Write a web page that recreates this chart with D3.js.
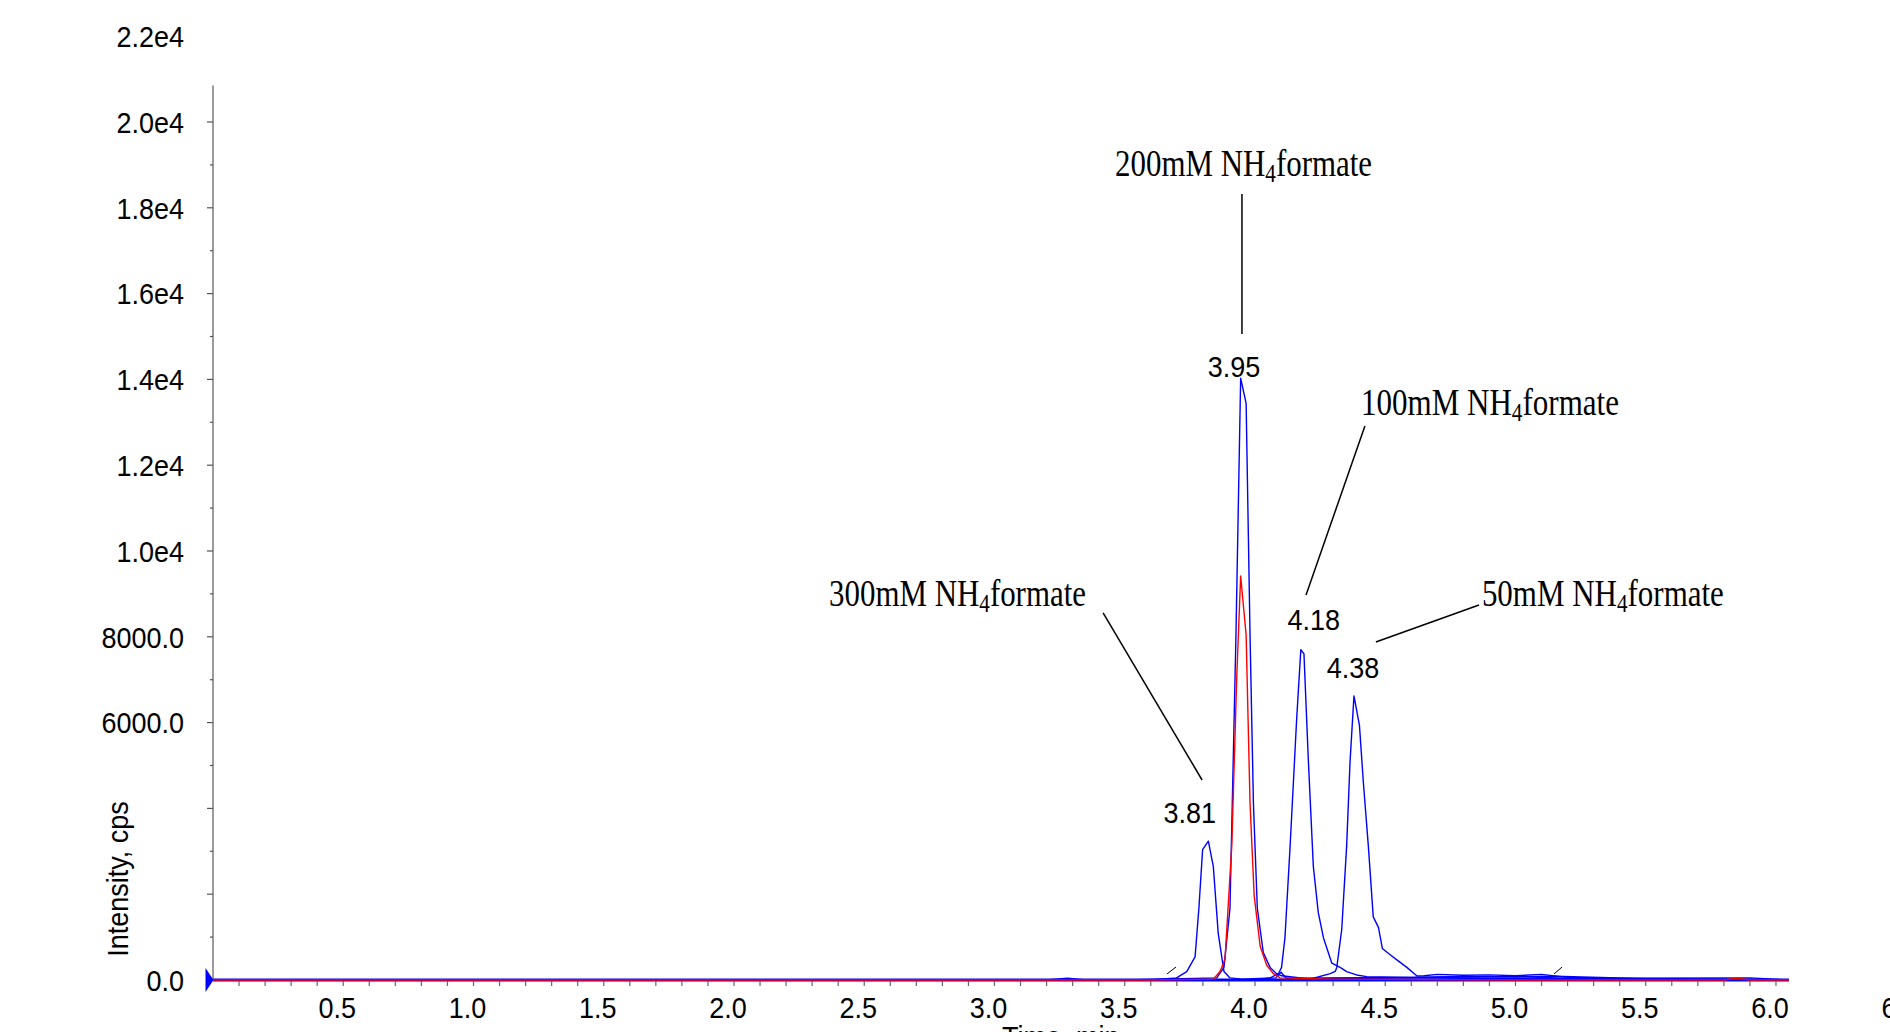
<!DOCTYPE html>
<html>
<head>
<meta charset="utf-8">
<script src="https://cdn.jsdelivr.net/npm/d3@7"></script>
<style>
  body { margin: 0; background: #fff; }
  svg { display: block; }
  .lbl { font-family: "Liberation Sans", Arial, sans-serif; font-size: 30px; fill: #000; }
  .note { font-family: "Liberation Serif", "Times New Roman", serif; font-size: 38px; fill: #000; }
</style>
</head>
<body>
<div id="chart"></div>
<script>
// Overlaid XICs, one per NH4formate concentration (time in min, intensity in cps)
const t300 = [0, 3.20, 3.28, 3.35, 3.60, 3.699, 3.738, 3.770, 3.785, 3.799, 3.821, 3.840, 3.859, 3.881, 3.904, 3.95, 4.08, 4.10, 4.12, 4.6, 5.0, 5.2, 5.5, 6.05];
const i300 = [0, 0, 40, 0, 0, 49, 196, 540, 1700, 3041, 3237, 2649, 1079, 196, 49, 20, 50, 180, 40, 60, 80, 40, 20, 0];

const t200 = [0, 3.50, 3.853, 3.881, 3.904, 3.927, 3.945, 3.966, 3.981, 3.994, 4.009, 4.032, 4.058, 4.083, 4.102, 4.20, 4.60, 5.00, 6.05];
const i200 = [0, 0, 49, 294, 1668, 8044, 14028, 13440, 8044, 4120, 1668, 638, 294, 147, 98, 30, 50, 30, 0];

const t200b = [0, 3.60, 3.840, 3.866, 3.885, 3.911, 3.930, 3.945, 3.966, 3.981, 3.997, 4.020, 4.045, 4.071, 4.096, 4.30, 5.00, 5.80, 5.85, 5.90, 6.05];
const i200b = [0, 0, 20, 196, 490, 3139, 7063, 9418, 8044, 4120, 1962, 785, 343, 147, 49, 20, 0, 0, 40, 0, 0];

const t100 = [0, 4.00, 4.058, 4.090, 4.102, 4.115, 4.135, 4.160, 4.176, 4.188, 4.205, 4.224, 4.243, 4.263, 4.295, 4.327, 4.352, 4.390, 4.429, 4.60, 4.80, 5.00, 5.15, 5.50, 6.05];
const i100 = [0, 0, 49, 147, 294, 981, 3139, 6082, 7701, 7603, 5101, 2649, 1570, 981, 392, 294, 196, 118, 78, 60, 80, 70, 90, 30, 0];

const t50 = [0, 4.20, 4.289, 4.308, 4.314, 4.333, 4.352, 4.365, 4.380, 4.401, 4.416, 4.435, 4.454, 4.474, 4.489, 4.519, 4.551, 4.583, 4.622, 4.65, 4.70, 4.80, 4.90, 5.00, 5.10, 5.20, 5.40, 5.90, 6.05];
const i50 = [0, 0, 147, 200, 294, 1177, 3139, 5101, 6622, 5935, 4611, 3139, 1472, 1226, 736, 589, 441, 294, 93, 100, 130, 110, 120, 100, 130, 60, 40, 50, 0];

const yTickValues = [0, 6000, 8000, 10000, 12000, 14000, 16000, 18000, 20000, 22000];
const yTickLabels = ["0.0", "6000.0", "8000.0", "1.0e4", "1.2e4", "1.4e4", "1.6e4", "1.8e4", "2.0e4", "2.2e4"];
const xTickLabels = ["0.5", "1.0", "1.5", "2.0", "2.5", "3.0", "3.5", "4.0", "4.5", "5.0", "5.5", "6.0", "6.5"];

const peakNames = ["3.81", "3.95", "4.18", "4.38"];
const noteNames = ["300mM", "200mM", "100mM", "50mM"];

// annotation placement, in data units
const peakLabelAt = [[3.750, 3660], [3.919, 14056], [4.226, 8159], [4.376, 7040]];
const noteAt = [[2.365, 8718], [3.463, 18741], [4.407, 13170], [4.871, 8718]];
const noteWidth = [257, 257, 258, 242];
const leaderFrom = [[3.417, 8555], [3.950, 18322], [4.422, 12914], [4.860, 8741]];
const leaderTo = [[3.797, 4662], [3.950, 15058], [4.196, 8974], [4.464, 7879]];
const markers = [[3.662, 3.697], [5.148, 5.179]];

const W = 1890, H = 1032;
const SX = 0.9; // the sans labels are slightly condensed
const x = d3.scaleLinear().domain([0, 6.05]).range([213, 1789]);
const y = d3.scaleLinear().domain([0, 22000]).range([980, 36.2]);

const svg = d3.select("#chart").append("svg").attr("width", W).attr("height", H);

// y axis
svg.append("line").attr("x1", x(0)).attr("x2", x(0))
  .attr("y1", y(0)).attr("y2", y(20850)).attr("stroke", "#7a7a7a").attr("stroke-width", 1.5);
svg.selectAll("line.ytick").data(d3.range(1000, 20001, 1000)).join("line")
  .attr("class", "ytick")
  .attr("x1", d => x(0) - (d % 2000 === 0 ? 6 : 3)).attr("x2", x(0))
  .attr("y1", d => y(d)).attr("y2", d => y(d))
  .attr("stroke", "#555").attr("stroke-width", 1.2);
svg.selectAll("text.ylab").data(yTickValues).join("text")
  .attr("class", "lbl ylab").attr("dy", "0.36em").attr("text-anchor", "end")
  .attr("transform", d => `translate(184,${y(d)}) scale(${SX},1)`)
  .text((d, i) => yTickLabels[i]);
svg.append("text").attr("class", "lbl")
  .attr("transform", `translate(128,879) rotate(-90) scale(${SX},1)`).attr("text-anchor", "middle")
  .text("Intensity, cps");

// x axis
svg.append("line").attr("x1", x(0)).attr("x2", x(6.05))
  .attr("y1", y(0)).attr("y2", y(0)).attr("stroke", "#0000ff").attr("stroke-width", 3);
svg.selectAll("line.xtick").data(d3.range(1, 61).map(k => k / 10)).join("line")
  .attr("class", "xtick")
  .attr("x1", d => x(d)).attr("x2", d => x(d))
  .attr("y1", y(0) + 1).attr("y2", y(0) + 6)
  .attr("stroke", "#666").attr("stroke-width", 1.2);
svg.selectAll("text.xlab").data(xTickLabels).join("text")
  .attr("class", "lbl xlab").attr("text-anchor", "middle")
  .attr("transform", d => `translate(${x(+d) - 6},1018) scale(${SX},1)`)
  .text(d => d);
svg.append("text").attr("class", "lbl")
  .attr("transform", `translate(1002,1047) scale(${SX},1)`).text("Time, min");

// blue triangle at the origin
svg.append("path")
  .attr("d", `M${x(0) - 7.5},${y(0) - 12}L${x(0) + 0.5},${y(0)}L${x(0) - 7.5},${y(0) + 12}Z`)
  .attr("fill", "#0000ff");

// traces
const traces = [
  {t: t300, v: i300, color: "#0000ff"},
  {t: t200, v: i200, color: "#0000ff"},
  {t: t100, v: i100, color: "#0000ff"},
  {t: t50, v: i50, color: "#0000ff"},
  {t: t200b, v: i200b, color: "#ff0000"}
];
const line = d3.line().x(d => x(d[0])).y(d => y(d[1]));
svg.selectAll("path.trace").data(traces).join("path")
  .attr("class", "trace")
  .attr("d", d => line(d.t.map((tt, k) => [tt, d.v[k]])))
  .attr("fill", "none").attr("stroke", d => d.color).attr("stroke-width", 1.4)
  .attr("stroke-linejoin", "round");

// integration markers
svg.selectAll("line.mark").data(markers).join("line")
  .attr("class", "mark")
  .attr("x1", d => x(d[0])).attr("y1", y(140)).attr("x2", d => x(d[1])).attr("y2", y(303))
  .attr("stroke", "#000").attr("stroke-width", 1);

// peak retention-time labels
svg.selectAll("text.rt").data(peakNames).join("text")
  .attr("class", "lbl rt").attr("text-anchor", "middle")
  .attr("transform", (d, i) => `translate(${x(peakLabelAt[i][0])},${y(peakLabelAt[i][1])}) scale(${SX},1)`)
  .text(d => d);

// leader lines
svg.selectAll("line.leader").data(leaderFrom).join("line")
  .attr("class", "leader")
  .attr("x1", d => x(d[0])).attr("y1", d => y(d[1]))
  .attr("x2", (d, i) => x(leaderTo[i][0])).attr("y2", (d, i) => y(leaderTo[i][1]))
  .attr("stroke", "#000").attr("stroke-width", 1.5);

// concentration notes (condensed serif, NH4 with subscript)
noteNames.forEach((name, i) => {
  const g = svg.append("g")
    .attr("transform", `translate(${x(noteAt[i][0])},${y(noteAt[i][1])})`);
  const txt = g.append("text").attr("class", "note");
  txt.append("tspan").text(name + " NH");
  txt.append("tspan").attr("font-size", "26px").attr("dy", 6).text("4");
  txt.append("tspan").attr("dy", -6).text("formate");
  const w = txt.node().getBBox().width;
  txt.attr("transform", `scale(${noteWidth[i] / w},1)`);
});
</script>
</body>
</html>
